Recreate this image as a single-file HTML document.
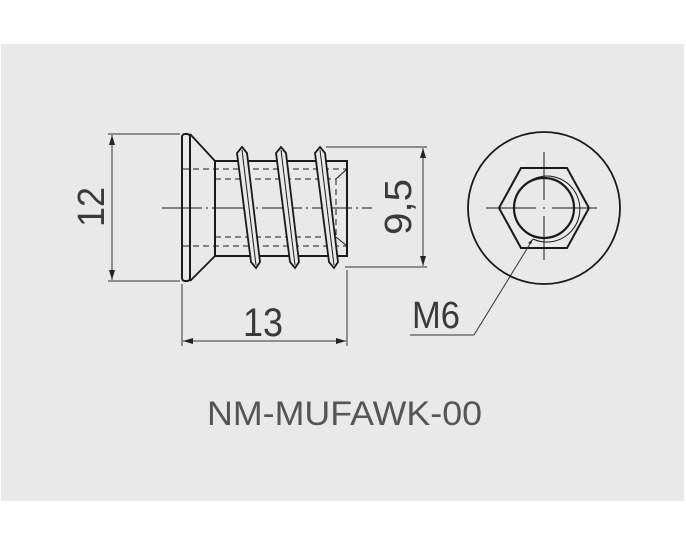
<!DOCTYPE html>
<html><head><style>
html,body{margin:0;padding:0;background:#fff;}
svg{display:block;}
text{font-family:"Liberation Sans",sans-serif;fill:#3a3a3a;}
</style></head><body>
<svg width="686" height="536" viewBox="0 0 686 536">
<defs>
<marker id="a" viewBox="0 0 10 10" refX="10" refY="5" markerWidth="10" markerHeight="10" orient="auto-start-reverse" markerUnits="userSpaceOnUse"><path d="M0,2 L10,5 L0,8 z" fill="#222"/></marker>
</defs>
<rect x="1" y="44" width="683" height="457" fill="#e9e9e9"/>
<g stroke="#1a1a1a" fill="none">
<rect x="182" y="134" width="8" height="147" rx="3" stroke-width="2"/>
<path d="M190,134 L215,161 L215,256 L190,281" stroke-width="1.8"/>
<rect x="215" y="161" width="132" height="95" stroke-width="2"/>
<g stroke-dasharray="6,4" stroke-width="1">
<line x1="183" y1="169" x2="347" y2="169"/>
<line x1="215" y1="179" x2="336" y2="179"/>
<line x1="215" y1="237" x2="336" y2="237"/>
<line x1="183" y1="246" x2="347" y2="246"/>
<line x1="336" y1="179" x2="336" y2="237"/>
</g>
<line x1="336" y1="179" x2="347" y2="169" stroke-width="1"/>
<line x1="336" y1="237" x2="347" y2="246" stroke-width="1"/>
<line x1="162" y1="208" x2="372" y2="208" stroke-width="1" stroke-dasharray="40,4,2,4"/>
<g stroke-width="1.8" fill="#e9e9e9">
<polygon points="242,147 247,153 260,262 256,268 251,262 237,153"/>
<polygon points="281,147 286,153 299,262 295,268 290,262 276,153"/>
<polygon points="320,147 325,153 338,262 334,268 329,262 315,153"/>
</g>
<g stroke-width="1">
<line x1="242" y1="150" x2="256" y2="265"/>
<line x1="281" y1="150" x2="295" y2="265"/>
<line x1="320" y1="150" x2="334" y2="265"/>
</g>
<g stroke="#333" stroke-width="1">
<line x1="108" y1="134" x2="180" y2="134"/>
<line x1="108" y1="281" x2="180" y2="281"/>
<line x1="112" y1="135" x2="112" y2="280" marker-start="url(#a)" marker-end="url(#a)"/>
<line x1="326" y1="147" x2="427" y2="147"/>
<line x1="345" y1="267" x2="427" y2="267"/>
<line x1="423" y1="148" x2="423" y2="266" marker-start="url(#a)" marker-end="url(#a)"/>
<line x1="182" y1="284" x2="182" y2="346"/>
<line x1="347" y1="270" x2="347" y2="346"/>
<line x1="183" y1="341" x2="346" y2="341" marker-start="url(#a)" marker-end="url(#a)"/>
</g>
<circle cx="544" cy="208" r="76" stroke-width="1.8"/>
<polygon points="499,208 521,168 567,168 589,208 567,248 521,248" stroke-width="2"/>
<circle cx="544" cy="208" r="30" stroke-width="2.2"/>
<path d="M514,206 A33,33 0 1 1 533,239" stroke-width="1"/>
<g stroke-width="1">
<line x1="544" y1="152" x2="544" y2="200"/>
<line x1="544" y1="216" x2="544" y2="260"/>
<line x1="486" y1="208" x2="536" y2="208"/>
<line x1="552" y1="208" x2="597" y2="208"/>
<line x1="543" y1="208" x2="545" y2="208"/>
</g>
<line x1="533" y1="239" x2="474" y2="335" stroke="#333" stroke-width="1"/>
<line x1="474" y1="335" x2="410" y2="335" stroke="#333" stroke-width="1"/>
</g>
<path d="M533,239 L528,243 L531,244 z" fill="#222"/>
<text x="0" y="0" font-size="38" transform="translate(104,207) rotate(-90)" text-anchor="middle" textLength="40" lengthAdjust="spacingAndGlyphs">12</text>
<text x="0" y="0" font-size="38" transform="translate(411,207) rotate(-90)" text-anchor="middle" textLength="56" lengthAdjust="spacingAndGlyphs">9,5</text>
<text x="243" y="336" font-size="40" textLength="40" lengthAdjust="spacingAndGlyphs">13</text>
<text x="412" y="328" font-size="38" textLength="48" lengthAdjust="spacingAndGlyphs">M6</text>
<text x="207" y="425" font-size="34" textLength="275" lengthAdjust="spacingAndGlyphs" style="fill:#555">NM-MUFAWK-00</text>
</svg>
</body></html>
